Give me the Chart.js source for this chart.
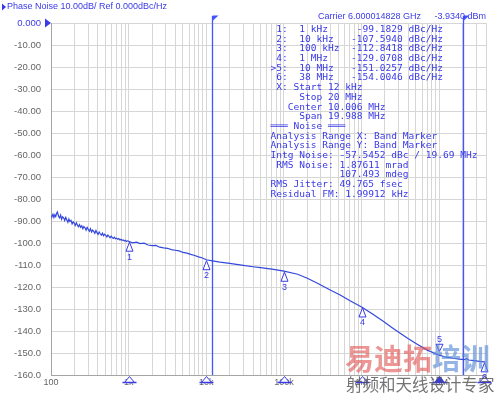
<!DOCTYPE html>
<html>
<head>
<meta charset="utf-8">
<script src="https://cdn.jsdelivr.net/npm/chart.js@4.4.1/dist/chart.umd.min.js"></script>
<style>
  html, body { margin: 0; padding: 0; background: #fff; }
  #wrap { position: relative; width: 500px; height: 395px; }
</style>
</head>
<body>
<div id="wrap"><canvas id="c" width="500" height="395"></canvas></div>
<script>
(function () {
  "use strict";

  // ---- data --------------------------------------------------------------
  var FREQ_HZ = [
    100, 103, 106, 109, 112, 115, 118, 121, 125, 129, 133, 137, 141, 146, 150,
    155, 160, 165, 170, 175, 181, 187, 193, 199, 205, 212, 219, 226, 233, 241,
    249, 257, 265, 274, 283, 292, 302, 312, 322, 333, 344, 355, 367, 379, 391,
    404, 417, 431, 445, 460, 475, 490, 506, 523, 540, 558, 576, 595, 615, 635,
    656, 677, 700, 723, 746, 771, 796, 822, 849, 877, 906, 936, 967, 1000,
    1120, 1260, 1410, 1580, 1780, 2000, 2240, 2510, 2820, 3160, 3550, 3980,
    4470, 5010, 5620, 6310, 7080, 7940, 8910, 10000,
    12000, 15000, 20000, 30000, 40000, 50000, 70000, 100000,
    150000, 200000, 270000, 400000, 530000, 700000, 1000000,
    1400000, 1900000, 2500000, 3140000, 4000000, 5200000, 7000000, 10000000,
    12000000, 15000000, 18000000, 21000000, 22500000, 24000000, 28000000,
    33000000, 38000000, 39500000
  ];
  var NOISE_DBC = [
    -87.6, -87.9, -86.9, -88.4, -87.2, -88.0, -86.5, -85.9, -87.8, -88.6, -87.3, -89.2, -88.1, -88.7, -89.8,
    -88.4, -89.5, -90.6, -89.1, -90.2, -89.7, -91.3, -90.4, -90.9, -92.0, -90.8, -91.9, -92.6, -91.7, -92.9,
    -92.2, -93.5, -92.5, -93.1, -94.2, -92.9, -93.8, -94.6, -93.5, -95.0, -94.1, -94.7, -95.6, -94.3, -95.3,
    -96.1, -95.0, -95.8, -96.4, -95.5, -96.7, -96.0, -96.5, -97.2, -96.4, -97.0, -97.6, -96.9, -97.5, -97.9,
    -97.4, -98.1, -97.8, -98.3, -98.0, -98.6, -98.3, -98.8, -98.6, -99.1, -98.8, -99.3, -99.0, -99.2,
    -99.9, -99.6, -100.3, -100.1, -100.9, -101.2, -101.1, -101.9, -102.2, -102.4, -103.0, -103.3,
    -103.6, -104.3, -104.6, -105.2, -105.7, -106.3, -106.8, -107.6,
    -108.1, -108.7, -109.3, -110.2, -110.8, -111.2, -111.9, -112.8,
    -114.2, -116.0, -118.3, -121.5, -123.6, -126.1, -129.1,
    -132.4, -135.6, -138.6, -141.0, -143.5, -146.0, -148.7, -151.0,
    -151.8, -152.4, -152.8, -153.0, -152.6, -153.2, -153.5,
    -153.8, -154.0, -154.1
  ];

  var MARKER_HZ = [1e3, 1e4, 1e5, 1e6, 1e7, 3.8e7];
  var MARKER_DBC = [-99.1829, -107.594, -112.8418, -129.0708, -151.0257, -154.0046];
  var MARKER_NAMES = ["1", "2", "3", "4", "5", "6"];
  var ACTIVE_MARKER = 4;
  var BAND_HZ = [12e3, 20e6];

  var Y_TICKS = [0, -10, -20, -30, -40, -50, -60, -70, -80, -90, -100, -110, -120, -130, -140, -150, -160];
  var X_TICK_HZ = [100, 1e3, 1e4, 1e5, 1e6, 1e7];
  var X_TICK_TEXT = ["100", "1k", "10k", "100k", "1M", "10M"];

  var TABLE_LINES = [
    " 1:  1 kHz     -99.1829 dBc/Hz",
    " 2:  10 kHz   -107.5940 dBc/Hz",
    " 3:  100 kHz  -112.8418 dBc/Hz",
    " 4:  1 MHz    -129.0708 dBc/Hz",
    ">5:  10 MHz   -151.0257 dBc/Hz",
    " 6:  38 MHz   -154.0046 dBc/Hz",
    " X: Start 12 kHz",
    "     Stop 20 MHz",
    "   Center 10.006 MHz",
    "     Span 19.988 MHz",
    "═══ Noise ═══",
    "Analysis Range X: Band Marker",
    "Analysis Range Y: Band Marker",
    "Intg Noise: -57.5452 dBc / 19.69 MHz",
    " RMS Noise: 1.87611 mrad",
    "            107.493 mdeg",
    "RMS Jitter: 49.765 fsec",
    "Residual FM: 1.99912 kHz"
  ];

  // ---- look ---------------------------------------------------------------
  var TEXT_BLUE = "#3a3ae8";
  var LINE_BLUE = "#4455ff";
  var TRACE = "#3448dc";
  var GRID = "#d6d6d6";
  var TICK = "#666666";
  var SANS = "'Liberation Sans', Arial, sans-serif";
  var MONO = "'DejaVu Sans Mono', monospace";
  var CJK = "'Noto Sans CJK SC', sans-serif";

  // log grid: 1..9 per decade, up to 40 MHz
  var gridHz = [];
  for (var d = 100; d <= 1e7; d *= 10) {
    for (var m = 1; m <= 9; m++) {
      if (d * m <= 4e7) gridHz.push(d * m);
    }
  }

  function yLabel(v) {
    if (v === 0) return "0.000";
    return Math.abs(v) < 100 ? v.toFixed(2) : v.toFixed(1);
  }

  function tri(ctx, x, y1, y2, half) {
    ctx.beginPath();
    ctx.moveTo(x, y1);
    ctx.lineTo(x - half, y2);
    ctx.lineTo(x + half, y2);
    ctx.closePath();
  }

  var analyzer = {
    id: "analyzer",
    beforeDatasetsDraw: function (chart) {
      var ctx = chart.ctx, xs = chart.scales.x, area = chart.chartArea;
      ctx.save();
      ctx.strokeStyle = LINE_BLUE;
      ctx.fillStyle = LINE_BLUE;
      ctx.lineWidth = 1.3;
      BAND_HZ.forEach(function (f) {
        var x = Math.round(xs.getPixelForValue(f)) + 0.5;
        ctx.beginPath();
        ctx.moveTo(x, 16);
        ctx.lineTo(x, area.bottom);
        ctx.stroke();
        ctx.beginPath();
        ctx.moveTo(x, 15.5);
        ctx.lineTo(x + 6, 15.5);
        ctx.lineTo(x, 21);
        ctx.closePath();
        ctx.fill();
      });
      ctx.restore();
    },
    afterDraw: function (chart) {
      var ctx = chart.ctx, xs = chart.scales.x, ys = chart.scales.y, area = chart.chartArea;
      ctx.save();

      // header
      ctx.fillStyle = TEXT_BLUE;
      ctx.beginPath();
      ctx.moveTo(2, 3.5); ctx.lineTo(6, 7); ctx.lineTo(2, 10.5); ctx.closePath();
      ctx.fill();
      ctx.font = "9px " + SANS;
      ctx.textBaseline = "middle";
      ctx.textAlign = "left";
      ctx.fillText("Phase Noise 10.00dB/ Ref 0.000dBc/Hz", 7, 7);
      ctx.fillText("Carrier 6.000014828 GHz", 318, 17);
      ctx.textAlign = "right";
      ctx.fillText("-3.9340 dBm", 486, 17);

      // reference level pointer
      var y0 = ys.getPixelForValue(0);
      ctx.beginPath();
      ctx.moveTo(45, y0 - 4.5); ctx.lineTo(51, y0); ctx.lineTo(45, y0 + 4.5); ctx.closePath();
      ctx.fill();

      // marker readout table
      ctx.font = "9.55px " + MONO;
      ctx.textAlign = "left";
      TABLE_LINES.forEach(function (s, i) {
        ctx.fillText(s, 270.5, 29.5 + i * 9.7);
      });

      // markers on the trace
      ctx.strokeStyle = TEXT_BLUE;
      ctx.lineWidth = 1;
      ctx.font = "9px " + SANS;
      ctx.textAlign = "center";
      MARKER_HZ.forEach(function (f, i) {
        var x = Math.round(xs.getPixelForValue(f)) + 0.5;
        var y = ys.getPixelForValue(MARKER_DBC[i]);
        if (i === ACTIVE_MARKER) {
          tri(ctx, x, y - 4, y - 11, 3.5);
          ctx.stroke();
          ctx.fillText(MARKER_NAMES[i], x, y - 16);
        } else {
          tri(ctx, x, y + 1, y + 10, 3.5);
          ctx.fillStyle = "#fff";
          ctx.fill();
          ctx.fillStyle = TEXT_BLUE;
          ctx.stroke();
          ctx.fillText(MARKER_NAMES[i], x, y + 16);
        }
      });

      // markers on the frequency axis
      MARKER_HZ.forEach(function (f, i) {
        var x = Math.round(xs.getPixelForValue(f)) + 0.5;
        var b = area.bottom;
        tri(ctx, x, b + 1.5, b + 7.5, 5);
        ctx.fillStyle = i === ACTIVE_MARKER ? TEXT_BLUE : "#fff";
        ctx.fill();
        ctx.stroke();
        ctx.lineWidth = 1.5;
        ctx.beginPath();
        ctx.moveTo(x - 7, b + 7.5);
        ctx.lineTo(x + 7, b + 7.5);
        ctx.stroke();
        ctx.lineWidth = 1;
      });

      // watermark
      ctx.textAlign = "left";
      ctx.textBaseline = "alphabetic";
      ctx.font = "bold 29px " + CJK;
      ctx.fillStyle = "rgba(225, 80, 80, 0.6)";
      ctx.fillText("易迪拓", 345, 370);
      ctx.fillStyle = "rgba(90, 140, 215, 0.65)";
      ctx.fillText("培训", 432, 370);
      ctx.font = "16.5px " + CJK;
      ctx.fillStyle = "rgba(80, 80, 80, 0.8)";
      ctx.fillText("射频和天线设计专家", 346, 391);

      ctx.restore();
    }
  };

  var points = FREQ_HZ.map(function (f, i) { return { x: f, y: NOISE_DBC[i] }; });

  new Chart(document.getElementById("c").getContext("2d"), {
    type: "line",
    data: {
      datasets: [{
        data: points,
        borderColor: TRACE,
        borderWidth: 1.2,
        pointRadius: 0,
        tension: 0,
        fill: false
      }]
    },
    options: {
      responsive: false,
      animation: false,
      devicePixelRatio: 1,
      layout: { padding: { top: 23, right: 14, left: 0, bottom: 0 } },
      plugins: { legend: { display: false }, tooltip: { enabled: false } },
      scales: {
        x: {
          type: "logarithmic",
          min: 100,
          max: 4e7,
          afterBuildTicks: function (s) {
            s.ticks = gridHz.map(function (v) { return { value: v }; });
          },
          afterFit: function (s) {
            s.height = 20;
            s.paddingLeft = 0;
            s.paddingRight = 0;
          },
          grid: { color: GRID, lineWidth: 1, drawTicks: false },
          border: { color: "#a4a4a4", width: 1 },
          ticks: {
            autoSkip: false,
            maxRotation: 0,
            minRotation: 0,
            padding: 2,
            color: TICK,
            font: { family: SANS, size: 9 },
            callback: function (v) {
              var k = X_TICK_HZ.indexOf(v);
              return k === -1 ? "" : X_TICK_TEXT[k];
            }
          }
        },
        y: {
          min: -160,
          max: 0,
          afterBuildTicks: function (s) {
            s.ticks = Y_TICKS.map(function (v) { return { value: v }; });
          },
          afterFit: function (s) {
            s.width = 51;
            s.paddingTop = 0;
            s.paddingBottom = 0;
          },
          grid: { color: GRID, lineWidth: 1, drawTicks: false },
          border: { color: "#a4a4a4", width: 1 },
          ticks: {
            padding: 10,
            font: { family: SANS, size: 9.5 },
            color: function (c) { return c.tick && c.tick.value === 0 ? TEXT_BLUE : TICK; },
            callback: yLabel
          }
        }
      }
    },
    plugins: [analyzer]
  });
})();
</script>
</body>
</html>
